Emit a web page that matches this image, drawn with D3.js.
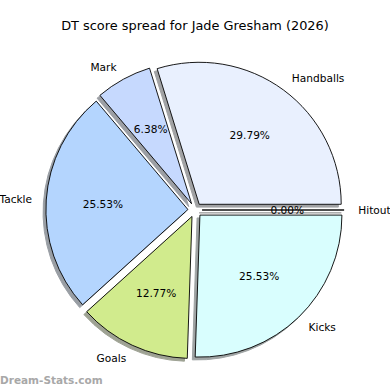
<!DOCTYPE html>
<html>
<head>
<meta charset="utf-8">
<script src="https://cdn.jsdelivr.net/npm/d3@7"></script>
<style>
body { margin: 0; background: #fff; }
text { font-family: "DejaVu Sans", sans-serif; }
</style>
</head>
<body>
<svg id="chart" width="390" height="390"></svg>
<script>
// slices, counterclockwise from 3 o'clock (matplotlib style)
var labels = ["Hitout", "Handballs", "Mark", "Tackle", "Goals", "Kicks"];
var values = [0, 14, 3, 12, 6, 12];
var colors = ["#ffffff", "#e9f0fe", "#c6d9fe", "#b4d5fe", "#d1eb8d", "#d9fefe"];
var title = "DT score spread for Jade Gresham (2026)";

var cx = 195, cy = 210, radius = 142;
var explode = 0.05;

var svg = d3.select("#chart");

svg.append("text")
	.attr("x", 195)
	.attr("y", 30)
	.attr("text-anchor", "middle")
	.attr("font-size", "12.9px")
	.text(title);

var pie = d3.pie().sort(null)
	.startAngle(Math.PI / 2)
	.endAngle(Math.PI / 2 - 2 * Math.PI);

var arc = d3.arc().innerRadius(0).outerRadius(radius);

var total = d3.sum(values);
var slices = pie(values).map(function(d, i) {
	var mid = (d.startAngle + d.endAngle) / 2;
	var off = explode * radius;
	d.label = labels[i];
	d.color = colors[i];
	d.mid = mid;
	d.ox = cx + off * Math.sin(mid);
	d.oy = cy - off * Math.cos(mid);
	return d;
});

function shade(c) {
	c = d3.rgb(c);
	return d3.rgb(c.r * 0.3, c.g * 0.3, c.b * 0.3);
}

//shadows
svg.append("g").selectAll("path").data(slices).enter()
	.append("path")
	.attr("d", arc)
	.attr("transform", function(d) { return "translate(" + (d.ox - 0.02 * radius) + "," + (d.oy + 0.02 * radius) + ")"; })
	.attr("fill", function(d) { return shade(d.color); })
	.attr("stroke", function(d) { return shade(d.color); })
	.attr("opacity", 0.5);

//wedges
svg.append("g").selectAll("path").data(slices).enter()
	.append("path")
	.attr("d", arc)
	.attr("transform", function(d) { return "translate(" + d.ox + "," + d.oy + ")"; })
	.attr("fill", function(d) { return d.color; })
	.attr("stroke", "#000")
	.attr("stroke-width", 0.9);

//labels
svg.append("g").selectAll("text").data(slices).enter()
	.append("text")
	.attr("x", function(d) { return d.ox + 1.1 * radius * Math.sin(d.mid); })
	.attr("y", function(d) { return d.oy - 1.1 * radius * Math.cos(d.mid); })
	.attr("dy", "0.35em")
	.attr("text-anchor", function(d) { return Math.sin(d.mid) > 0 ? "start" : "end"; })
	.attr("font-size", "10.6px")
	.text(function(d) { return d.label; });

//percentages
svg.append("g").selectAll("text").data(slices).enter()
	.append("text")
	.attr("x", function(d) { return d.ox + 0.6 * radius * Math.sin(d.mid); })
	.attr("y", function(d) { return d.oy - 0.6 * radius * Math.cos(d.mid); })
	.attr("dy", "0.35em")
	.attr("text-anchor", "middle")
	.attr("font-size", "10.6px")
	.text(function(d) { return (100 * d.value / total).toFixed(2) + "%"; });

svg.append("text")
	.attr("x", 0)
	.attr("y", 384)
	.attr("font-size", "10.5px")
	.attr("font-weight", "bold")
	.attr("fill", "#a8a8a8")
	.text("Dream-Stats.com");
</script>
</body>
</html>
